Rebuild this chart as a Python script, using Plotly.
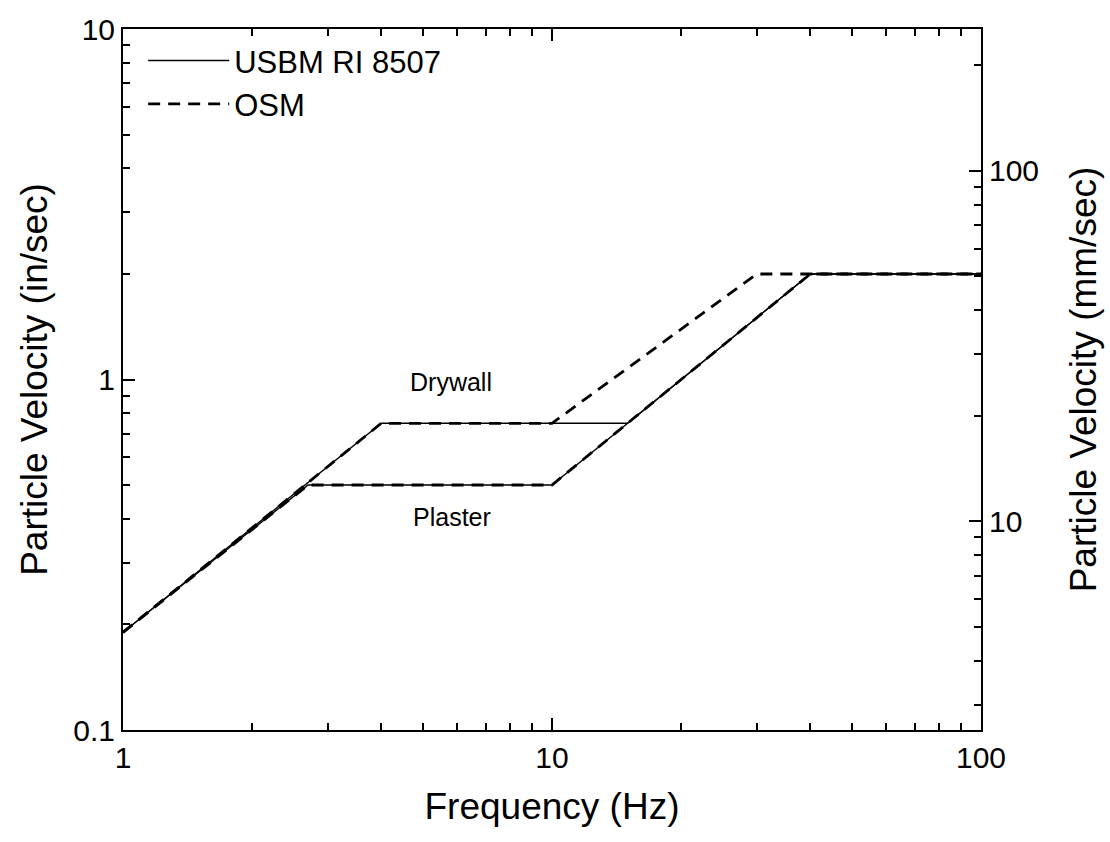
import math
import plotly.graph_objects as go

# ---- data (frequency in Hz, particle velocity in in/sec) ----
usbm_drywall_f = [1, 4, 15, 40, 100]
usbm_drywall_v = [0.19, 0.75, 0.75, 2.0, 2.0]
usbm_plaster_f = [1, 2.7, 10, 40, 100]
usbm_plaster_v = [0.19, 0.5, 0.5, 2.0, 2.0]
osm_drywall_f = [1, 4, 10, 30, 100]
osm_drywall_v = [0.19, 0.75, 0.75, 2.0, 2.0]
osm_plaster_f = [1, 2.7, 10, 40, 100]
osm_plaster_v = [0.19, 0.5, 0.5, 2.0, 2.0]

x_ticks = [1, 10, 100]
x_ticktext = ["1", "10", "100"]
y_ticks = [0.1, 1, 10]
y_ticktext = ["0.1", "1", "10"]
y2_ticks = [10, 100]
y2_ticktext = ["10", "100"]
IN_TO_MM = 25.4

labels = ["Drywall", "Plaster"]
label_f = [5.8, 5.85]
label_v = [0.985, 0.405]

FONT = "Liberation Sans, Arial, sans-serif"

fig = go.Figure()

solid = dict(color="black", width=1.4)
dashed = dict(color="black", width=2.8, dash="12px,8px")

fig.add_trace(go.Scatter(x=usbm_drywall_f, y=usbm_drywall_v, mode="lines", line=solid,
                         name="USBM RI 8507", legendrank=1))
fig.add_trace(go.Scatter(x=usbm_plaster_f, y=usbm_plaster_v, mode="lines", line=solid,
                         name="USBM RI 8507", showlegend=False))
fig.add_trace(go.Scatter(x=osm_plaster_f, y=osm_plaster_v, mode="lines", line=dashed,
                         name="OSM", showlegend=False))
fig.add_trace(go.Scatter(x=osm_drywall_f, y=osm_drywall_v, mode="lines", line=dashed,
                         name="OSM", legendrank=2))
# same curve in mm/sec on the right axis (invisible, just carries the axis)
fig.add_trace(go.Scatter(x=usbm_drywall_f, y=[v * IN_TO_MM for v in usbm_drywall_v],
                         mode="lines", line=dict(width=0, color="rgba(0,0,0,0)"),
                         yaxis="y2", showlegend=False, hoverinfo="skip"))

for t, f, v in zip(labels, label_f, label_v):
    fig.add_annotation(x=math.log10(f), y=math.log10(v), text=t, showarrow=False,
                       font=dict(family=FONT, size=25, color="black"))

minor_x = [2, 3, 4, 5, 6, 7, 8, 9, 20, 30, 40, 50, 60, 70, 80, 90]
minor_y = [0.2, 0.3, 0.4, 0.5, 0.6, 0.7, 0.8, 0.9, 2, 3, 4, 5, 6, 7, 8, 9]
minor_y2 = [3, 4, 5, 6, 7, 8, 9, 20, 30, 40, 50, 60, 70, 80, 90, 200]

axis_common = dict(showline=True, linecolor="black", linewidth=2, ticks="inside",
                   ticklen=12, tickwidth=2, tickcolor="black", showgrid=False,
                   zeroline=False, tickfont=dict(family=FONT, size=30, color="black"),
                   title_font=dict(family=FONT, size=37, color="black"))

fig.update_layout(
    width=1110, height=842,
    margin=dict(l=123, r=129, t=22, b=112),
    paper_bgcolor="white", plot_bgcolor="white",
    showlegend=True,
    legend=dict(x=0.0235, y=0.993, xanchor="left", yanchor="top", itemwidth=81,
                font=dict(family=FONT, size=31, color="black"),
                bgcolor="rgba(0,0,0,0)", tracegroupgap=0),
    xaxis=dict(type="log", range=[0, 2], tickvals=x_ticks, ticktext=x_ticktext,
               mirror="ticks", title_text="Frequency (Hz)", title_standoff=20,
               minor=dict(ticks="inside", ticklen=7, tickwidth=1.5, tickcolor="black",
                          tickvals=minor_x, showgrid=False),
               **axis_common),
    yaxis=dict(type="log", range=[-1, 1], tickvals=y_ticks, ticktext=y_ticktext,
               title_text="Particle Velocity (in/sec)", title_standoff=14,
               minor=dict(ticks="inside", ticklen=7, tickwidth=1.5, tickcolor="black",
                          tickvals=minor_y, showgrid=False),
               **axis_common),
    yaxis2=dict(type="log", overlaying="y", side="right",
                range=[math.log10(0.1 * IN_TO_MM), math.log10(10 * IN_TO_MM)],
                tickvals=y2_ticks, ticktext=y2_ticktext,
                title_text="Particle Velocity (mm/sec)", title_standoff=32,
                minor=dict(ticks="inside", ticklen=7, tickwidth=1.5, tickcolor="black",
                           tickvals=minor_y2, showgrid=False),
                **axis_common),
)

fig.write_html("out.html")
